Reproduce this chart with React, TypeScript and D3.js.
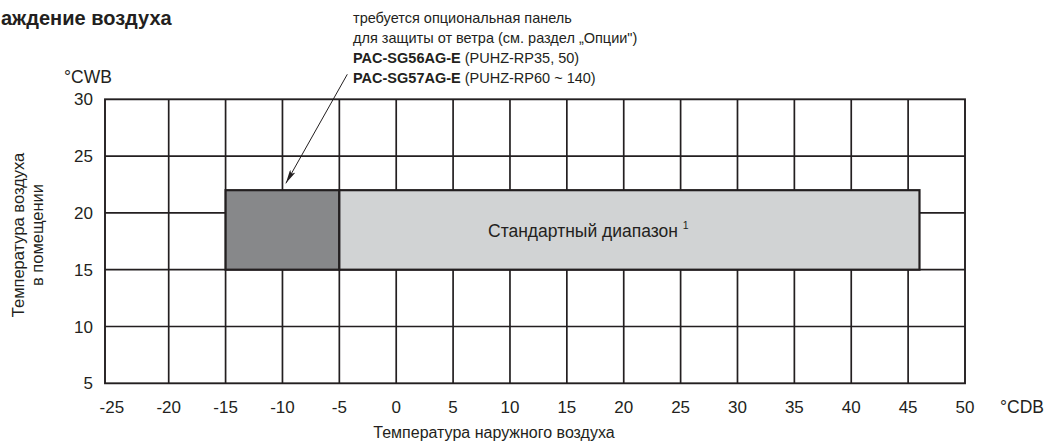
import React, { useEffect, useRef } from 'react';
import * as d3 from 'd3';

// axis ticks
const xTicks = [-25, -20, -15, -10, -5, 0, 5, 10, 15, 20, 25, 30, 35, 40, 45, 50];
const yTicks = [5, 10, 15, 20, 25, 30];

// operating ranges (outdoor °CDB, indoor °CWB)
const rangeNames = ['wind', 'standard'];
const rangeX0 = [-15, -5];
const rangeX1 = [-5, 46];
const rangeY0 = [15, 15];
const rangeY1 = [22, 22];
const rangeFill = ['#87888a', '#d1d3d4'];

// annotation arrow (tail -> tip), data coords
const arrowTail = [-4.3, 32.2];
const arrowTip = [-9.7, 22.6];

const noteLines = [
  { bold: '', rest: 'требуется опциональная панель' },
  { bold: '', rest: 'для защиты от ветра (см. раздел „Опции")' },
  { bold: 'PAC-SG56AG-E', rest: ' (PUHZ-RP35, 50)' },
  { bold: 'PAC-SG57AG-E', rest: ' (PUHZ-RP60 ~ 140)' },
];

const INK = '#231f20';
const FONT = '"Liberation Sans", Arial, sans-serif';

export default function App() {
  const svgRef = useRef<SVGSVGElement>(null);

  useEffect(() => {
    if (!svgRef.current) return;
    const width = 1049;
    const height = 445;
    const svg = d3.select(svgRef.current);
    svg.selectAll('*').remove();
    svg.attr('width', width).attr('height', height);

    const x = d3.scaleLinear().domain([-25.6, 50]).range([105, 965]);
    const y = d3.scaleLinear().domain([5, 30]).range([383.3, 99.3]);

    svg.append('defs').append('marker')
      .attr('id', 'arrowhead')
      .attr('viewBox', '0 0 14 6')
      .attr('refX', 14).attr('refY', 3)
      .attr('markerWidth', 14).attr('markerHeight', 6)
      .attr('markerUnits', 'userSpaceOnUse')
      .attr('orient', 'auto')
      .append('path').attr('d', 'M0,0 L14,3 L0,6 L3,3 Z').attr('fill', INK);

    const g = svg.append('g');

    // grid
    g.selectAll('.vgrid')
      .data(xTicks.filter(d => d > -25 && d < 50))
      .enter().append('line')
      .attr('x1', d => x(d)).attr('x2', d => x(d))
      .attr('y1', y(30)).attr('y2', y(5))
      .attr('stroke', INK).attr('stroke-width', 1.7);

    g.selectAll('.hgrid')
      .data(yTicks.filter(d => d > 5 && d < 30))
      .enter().append('line')
      .attr('x1', x(-25.6)).attr('x2', x(50))
      .attr('y1', d => y(d)).attr('y2', d => y(d))
      .attr('stroke', INK).attr('stroke-width', 1.7);

    g.append('rect')
      .attr('x', x(-25.6)).attr('y', y(30))
      .attr('width', x(50) - x(-25.6)).attr('height', y(5) - y(30))
      .attr('fill', 'none').attr('stroke', INK).attr('stroke-width', 1.9);

    // ranges
    g.selectAll('.range')
      .data(rangeNames)
      .enter().append('rect')
      .attr('x', (_, i) => x(rangeX0[i]))
      .attr('y', (_, i) => y(rangeY1[i]))
      .attr('width', (_, i) => x(rangeX1[i]) - x(rangeX0[i]))
      .attr('height', (_, i) => y(rangeY0[i]) - y(rangeY1[i]))
      .attr('fill', (_, i) => rangeFill[i])
      .attr('stroke', INK).attr('stroke-width', 2.2);

    const std = g.append('text')
      .attr('x', 488).attr('y', 237)
      .attr('font-family', FONT).attr('font-size', 17.5).attr('fill', INK)
      .text('Стандартный диапазон ');
    std.append('tspan').attr('font-size', 10.5).attr('dy', '-0.75em').text('1');

    // tick labels
    g.selectAll('.xl')
      .data(xTicks)
      .enter().append('text')
      .attr('x', d => x(d)).attr('y', 413)
      .attr('text-anchor', 'middle')
      .attr('font-family', FONT).attr('font-size', 17).attr('fill', INK)
      .text(d => d);

    g.selectAll('.yl')
      .data(yTicks)
      .enter().append('text')
      .attr('x', 93).attr('y', d => y(d))
      .attr('dy', '0.36em')
      .attr('text-anchor', 'end')
      .attr('font-family', FONT).attr('font-size', 17).attr('fill', INK)
      .text(d => d);

    g.append('text').attr('x', 1000).attr('y', 413)
      .attr('font-family', FONT).attr('font-size', 17.5).attr('fill', INK).text('°CDB');
    g.append('text').attr('x', 64).attr('y', 83)
      .attr('font-family', FONT).attr('font-size', 17.5).attr('fill', INK).text('°CWB');

    // axis titles
    g.append('text').attr('x', 494).attr('y', 438)
      .attr('text-anchor', 'middle')
      .attr('font-family', FONT).attr('font-size', 16).attr('fill', INK)
      .text('Температура наружного воздуха');

    const yt = g.append('text')
      .attr('transform', 'translate(0,235) rotate(-90)')
      .attr('text-anchor', 'middle')
      .attr('font-family', FONT).attr('font-size', 16.5).attr('fill', INK);
    yt.append('tspan').attr('x', 0).attr('y', 24).text('Температура воздуха');
    yt.append('tspan').attr('x', 0).attr('y', 43).text('в помещении');

    // title
    g.append('text').attr('x', 1).attr('y', 25)
      .attr('font-family', FONT).attr('font-size', 20).attr('font-weight', 'bold').attr('fill', INK)
      .text('аждение воздуха');

    // note
    const note = g.selectAll('.note')
      .data(noteLines)
      .enter().append('text')
      .attr('x', 353).attr('y', (_, i) => 23 + i * 20)
      .attr('font-family', FONT).attr('font-size', 14.5).attr('fill', INK);
    note.append('tspan').attr('font-weight', 'bold').text(d => d.bold);
    note.append('tspan').text(d => d.rest);

    g.append('line')
      .attr('x1', x(arrowTail[0])).attr('y1', y(arrowTail[1]))
      .attr('x2', x(arrowTip[0])).attr('y2', y(arrowTip[1]))
      .attr('stroke', INK).attr('stroke-width', 1)
      .attr('marker-end', 'url(#arrowhead)');
  }, []);

  return (
    <div style={{ position: 'absolute', left: 0, top: 0, background: '#fff' }}>
      <svg ref={svgRef} style={{ display: 'block' }} />
    </div>
  );
}
